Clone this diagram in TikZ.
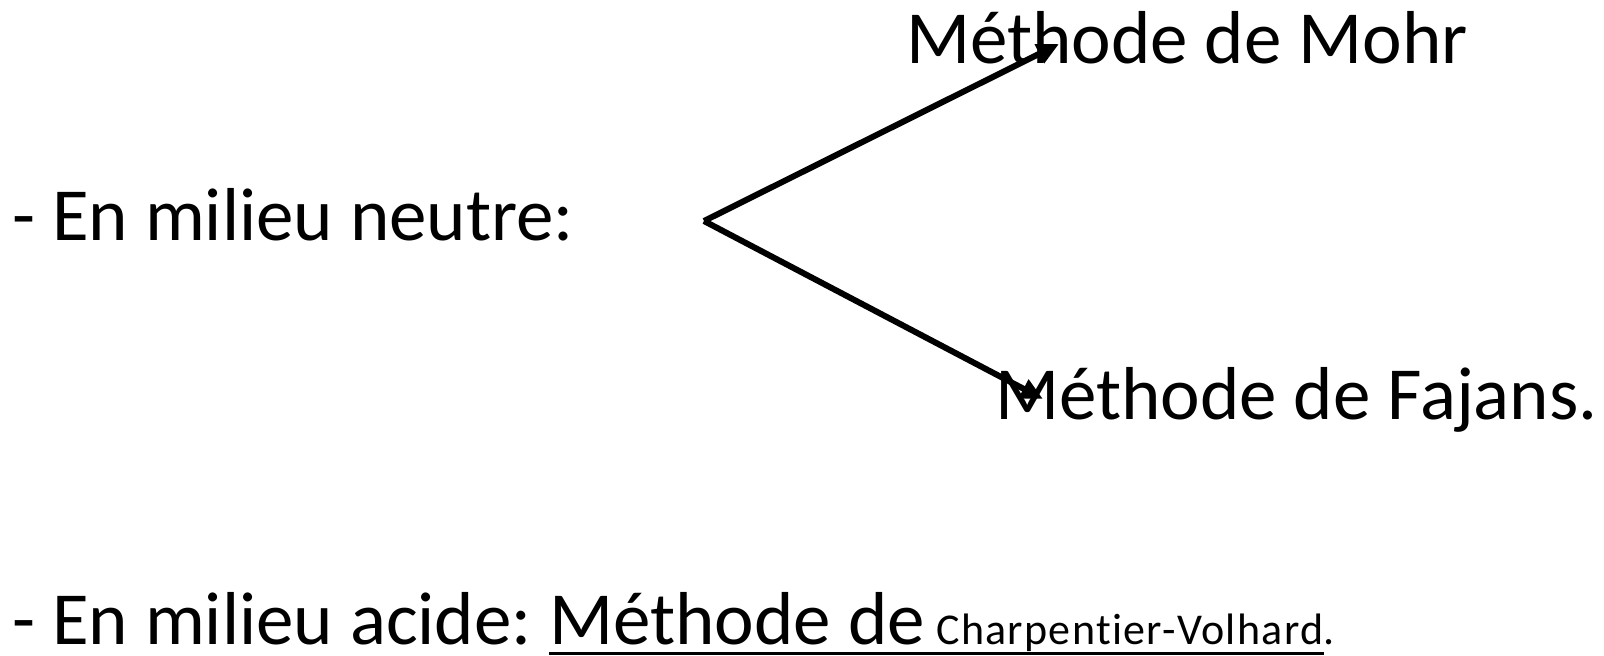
\documentclass[tikz,border=0pt]{standalone}
\usepackage{fontspec}
\setmainfont{Carlito}[Ligatures=NoCommon]
\usetikzlibrary{arrows.meta}
\begin{document}
\begin{tikzpicture}[x=1pt,y=-1pt,
  big/.style={anchor=base west,inner sep=0pt,font=\fontsize{75}{90}\selectfont},
  small/.style={anchor=base west,inner sep=0pt,font=\fontsize{44}{52}\selectfont\addfontfeatures{LetterSpace=3}},
  branch/.style={line width=6pt,-{Triangle[length=22pt,width=20pt]}}]
\useasboundingbox (0,0) rectangle (1604,656);
% neutral medium: two methods
\node[big] (neutre) at (12,240) {- En milieu neutre:};
\node[big] (mohr) at (906,63) {Méthode de Mohr};
\node[big] (fajans) at (995,419) {Méthode de Fajans.};
\coordinate (fork) at (704,221);
\coordinate (tipmohr) at (1059,44);
\coordinate (tipfajans) at (1043,399);
\draw[branch] (fork) -- (tipmohr);
\draw[branch] (fork) -- (tipfajans);
% acid medium
\node[big] (acide) at (12,644) {- En milieu acide:};
\node[big] (methode) at ([xshift=17pt]acide.base east) {Méthode de};
\node[small] (volhard) at ([xshift=11pt]methode.base east) {Charpentier-Volhard};
\node[small] (point) at (volhard.base east) {.};
\draw[line width=3pt] ([yshift=-9pt]methode.base west) -- ([yshift=-9pt]volhard.base east);
\end{tikzpicture}
\end{document}
